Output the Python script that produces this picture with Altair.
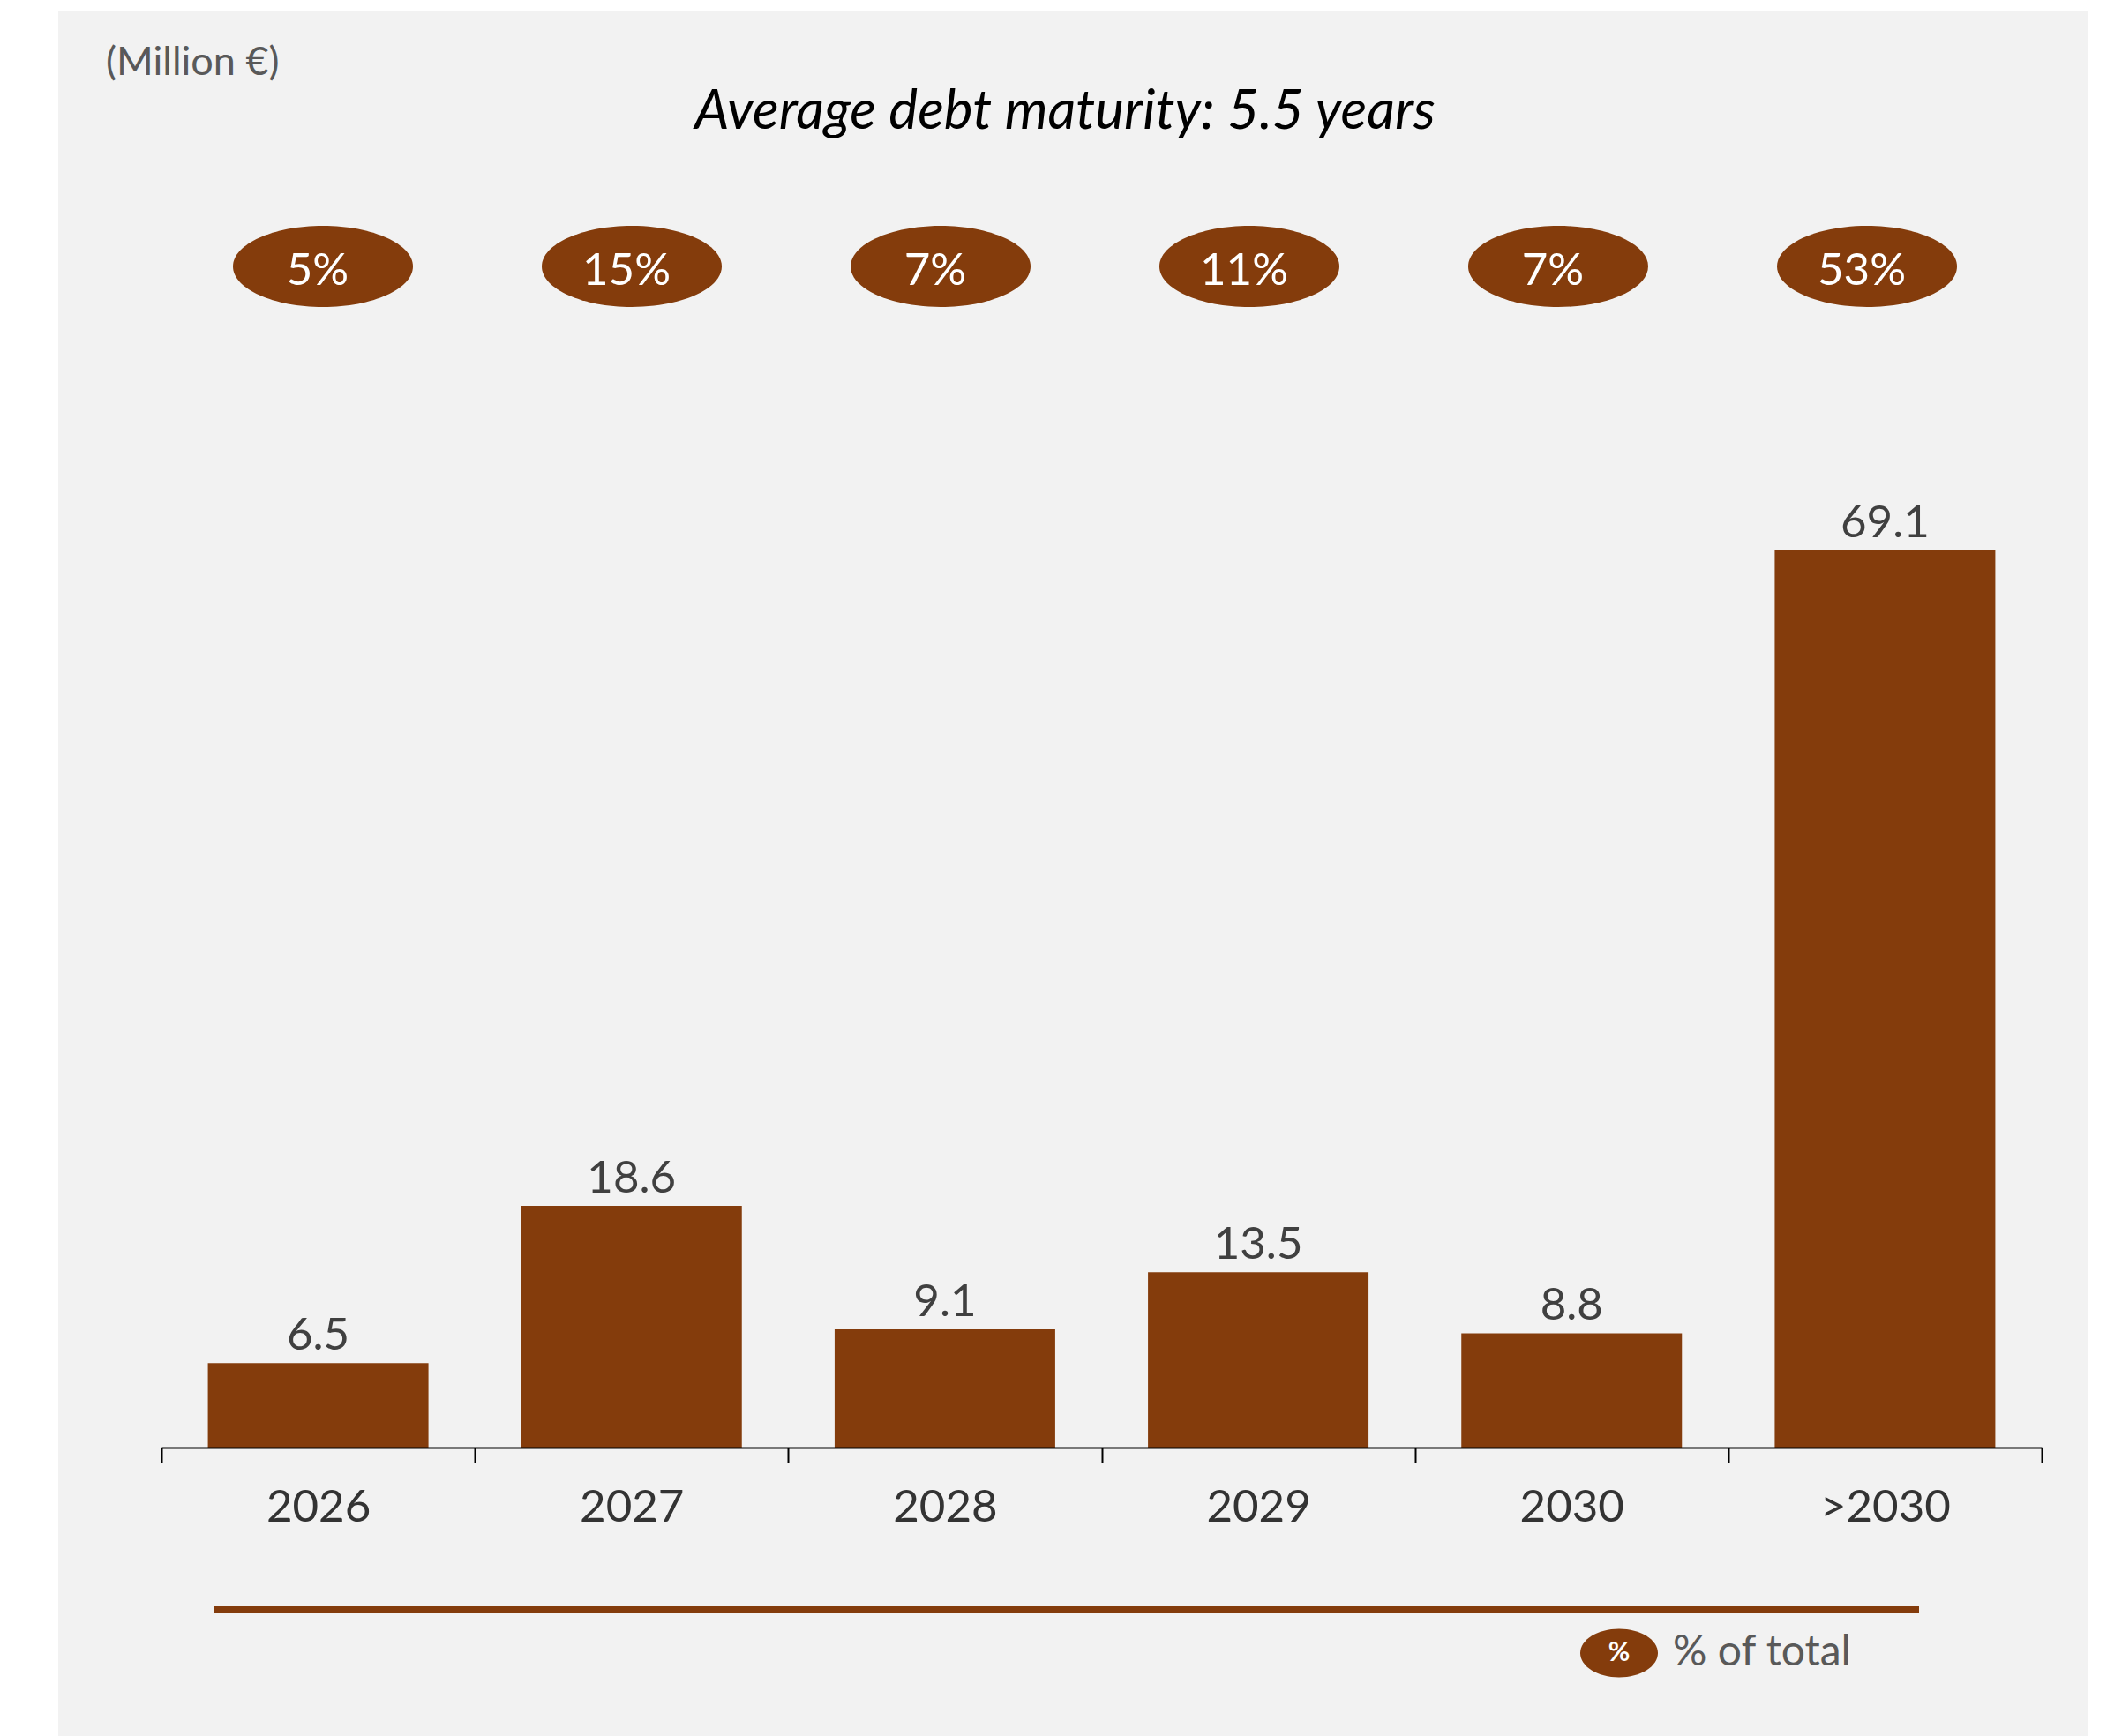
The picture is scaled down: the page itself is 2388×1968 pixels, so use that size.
import altair as alt
import pandas as pd

categories = ["2026", "2027", "2028", "2029", "2030", ">2030"]
amounts = [6.5, 18.6, 9.1, 13.5, 8.8, 69.1]
shares = [5, 15, 7, 11, 7, 53]

BROWN = "#843C0C"
df = pd.DataFrame({
    "cat": categories,
    "amount": amounts,
    "amount_label": [f"{a:.1f}" for a in amounts],
    "share_label": [f"{s}%" for s in shares],
})
one = alt.Data(values=[{"k": 1}])

W, H = 2131, 1178
PL, PT = 183, 463

band = alt.Scale(type="band", domain=categories, paddingInner=0, paddingOuter=0)
pts = alt.Scale(type="point", domain=categories, range=[183, 1933], padding=0)
yscale = alt.Scale(domain=[0, 80])

ELL = "M -1 0 A 1 0.451 0 1 1 1 0 A 1 0.451 0 1 1 -1 0 Z"
ELL_SMALL = "M -1 0 A 1 0.625 0 1 1 1 0 A 1 0.625 0 1 1 -1 0 Z"

panel = alt.Chart(one).mark_rect(color="#F2F2F2").encode(
    x=alt.value(66 - PL), x2=alt.value(2367 - PL),
    y=alt.value(13 - PT), y2=alt.value(1968 - PT),
)

bars = alt.Chart(df).mark_bar(color=BROWN, width=alt.RelativeBandSize(0.7039)).encode(
    x=alt.X("cat:N", sort=categories, scale=band,
            axis=alt.Axis(title=None, labelAngle=0, tickBand="extent",
                          labelFontSize=51, labelColor="#333333", labelFont="Lato",
                          labelPadding=26, tickSize=17, tickColor="#000000",
                          tickWidth=2, domainColor="#000000", domainWidth=2,
                          grid=False, zindex=2)),
    y=alt.Y("amount:Q", scale=yscale, axis=None),
)

vals = alt.Chart(df).mark_text(
    fontSize=51, font="Lato", color="#404040", baseline="alphabetic", dy=-15
).encode(
    x=alt.X("cat:N", sort=categories, scale=band, axis=None),
    y=alt.Y("amount:Q", scale=yscale, axis=None),
    text="amount_label:N",
)

ells = alt.Chart(df).mark_point(
    shape=ELL, size=204 * 204, filled=True, opacity=1, color=BROWN, strokeWidth=0
).encode(
    x=alt.X("cat:N", sort=categories, scale=pts, axis=None),
    y=alt.value(302 - PT),
)

pcts = alt.Chart(df).mark_text(
    fontSize=51, font="Lato", color="white", baseline="alphabetic", dx=-6
).encode(
    x=alt.X("cat:N", sort=categories, scale=pts, axis=None),
    y=alt.value(323 - PT),
    text="share_label:N",
)

title = alt.Chart(one).mark_text(
    text="Average debt maturity: 5.5 years", fontSize=62, font="Lato",
    fontStyle="italic", color="#000000", align="center", baseline="alphabetic"
).encode(x=alt.value(1207 - PL), y=alt.value(146 - PT))

unit = alt.Chart(one).mark_text(
    text="(Million €)", fontSize=45, font="Lato", color="#595959",
    align="left", baseline="alphabetic"
).encode(x=alt.value(120 - PL), y=alt.value(85 - PT))

line = alt.Chart(one).mark_rule(color=BROWN, strokeWidth=8, strokeCap="butt").encode(
    x=alt.value(243 - PL), x2=alt.value(2175 - PL), y=alt.value(1825 - PT)
)

leg_ell = alt.Chart(one).mark_point(
    shape=ELL_SMALL, size=88 * 88, filled=True, opacity=1, color=BROWN, strokeWidth=0
).encode(x=alt.value(1835 - PL), y=alt.value(1874 - PT))

leg_pct = alt.Chart(one).mark_text(
    text="%", fontSize=30, font="Lato", fontWeight="bold", color="white",
    align="center", baseline="middle"
).encode(x=alt.value(1835 - PL), y=alt.value(1874 - PT))

leg_txt = alt.Chart(one).mark_text(
    text="% of total", fontSize=48, font="Lato", color="#595959",
    align="left", baseline="alphabetic"
).encode(x=alt.value(1896 - PL), y=alt.value(1888 - PT))

chart = alt.layer(
    panel, bars, vals, ells, pcts, title, unit, line, leg_ell, leg_pct, leg_txt
).resolve_scale(x="independent").properties(
    width=W, height=H,
    autosize=alt.AutoSizeParams(type="none"),
    padding={"left": PL, "top": PT, "right": 2388 - PL - W, "bottom": 1968 - PT - H},
).configure(background="white", font="Lato").configure_view(stroke=None)

chart.save("out.html", embed_options={"renderer": "svg", "actions": False})
